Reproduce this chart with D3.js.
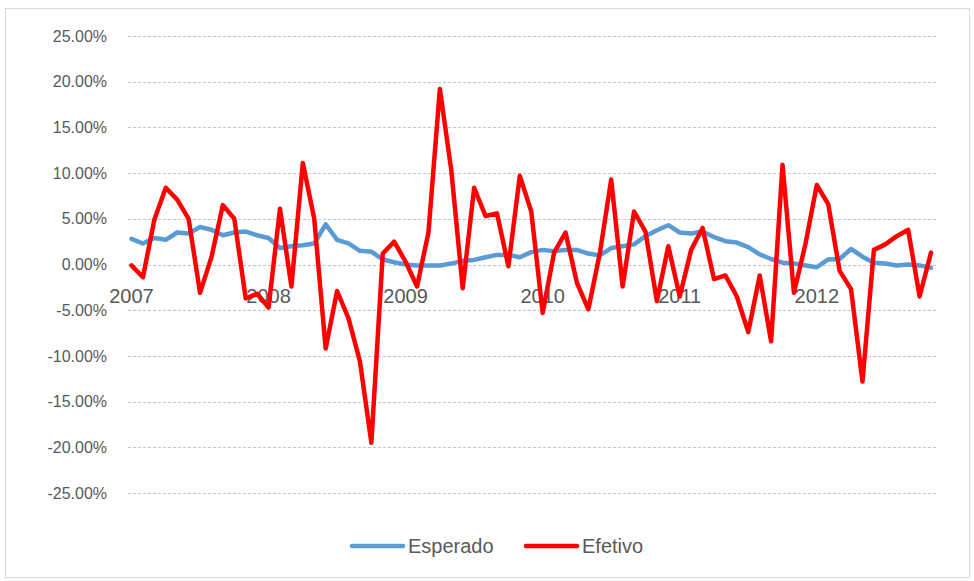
<!DOCTYPE html>
<html>
<head>
<meta charset="utf-8">
<script src="https://cdn.jsdelivr.net/npm/d3@7"></script>
<style>
  html, body { margin: 0; padding: 0; background: #fff; }
  svg { display: block; }
  text { font-family: "Liberation Sans", Arial, sans-serif; fill: #595959; }
</style>
</head>
<body>
<svg id="chart" width="974" height="581"></svg>
<script>
// Monthly observations, Jan 2007 .. Nov 2012 (values in %)
const esperado = [
  2.8, 2.3, 2.9, 2.7, 3.5, 3.4, 4.1, 3.8, 3.2, 3.5, 3.6, 3.2,
  2.9, 1.8, 2.0, 2.1, 2.3, 4.4, 2.7, 2.3, 1.5, 1.4, 0.55, 0.25,
  0.0, -0.1, -0.1, -0.1, 0.1, 0.4, 0.5, 0.8, 1.05, 1.05, 0.8, 1.35,
  1.6, 1.45, 1.6, 1.6, 1.2, 1.0, 1.8, 2.0, 2.2, 3.1, 3.75, 4.3,
  3.5, 3.4, 3.6, 3.0, 2.55, 2.4, 1.9, 1.1, 0.6, 0.2, 0.1, -0.1,
  -0.3, 0.55, 0.6, 1.7, 0.85, 0.2, 0.1, -0.1, 0.0, -0.1, -0.35
];
const efetivo = [
  -0.1, -1.4, 4.9, 8.4, 7.1, 5.0, -3.1, 0.8, 6.5, 5.0, -3.7, -3.2,
  -4.7, 6.1, -2.4, 11.1, 5.0, -9.2, -2.9, -5.9, -10.6, -19.5, 1.2, 2.5,
  0.3, -2.4, 3.5, 19.2, 10.3, -2.6, 8.4, 5.3, 5.6, -0.2, 9.7, 5.8,
  -5.3, 1.3, 3.5, -2.0, -4.9, 1.2, 9.3, -2.4, 5.8, 3.6, -4.0, 2.0,
  -3.5, 1.6, 4.0, -1.6, -1.2, -3.5, -7.4, -1.2, -8.4, 10.9, -3.1, 2.2,
  8.7, 6.6, -0.7, -2.7, -12.8, 1.6, 2.2, 3.1, 3.8, -3.5, 1.3
];
const yearLabels = ["2007", "2008", "2009", "2010", "2011", "2012"];
const yTicks = [-25, -20, -15, -10, -5, 0, 5, 10, 15, 20, 25];
const seriesNames = ["Esperado", "Efetivo"];
const seriesColors = ["#5b9bd5", "#ff0000"];

const svg = d3.select("#chart");
const n = efetivo.length;

const x = d3.scalePoint().domain(d3.range(n)).range([131.5, 931]);
const y = d3.scaleLinear().domain([-25, 25]).range([493, 36]);

const pctFmt = d3.formatLocale({decimal: ".", thousands: ",", grouping: [3], currency: ["", ""], minus: "-"}).format(".2%");

// chart frame
svg.append("rect")
  .attr("x", 5.5).attr("y", 8.5).attr("width", 964).attr("height", 569)
  .attr("fill", "none").attr("stroke", "#d9d9d9").attr("stroke-width", 1);

// gridlines
svg.append("g").selectAll("line").data(yTicks).join("line")
  .attr("x1", 128).attr("x2", 938)
  .attr("y1", d => Math.round(y(d)) + 0.5).attr("y2", d => Math.round(y(d)) + 0.5)
  .attr("stroke", "#c3c3c3").attr("stroke-width", 1)
  .attr("stroke-dasharray", "3,2");

// y axis labels
const yAxis = svg.append("g").attr("transform", "translate(128,0)")
  .call(d3.axisLeft(y).tickValues(yTicks).tickSize(0).tickPadding(21).tickFormat(d => pctFmt(d / 100)));
yAxis.select(".domain").remove();
yAxis.selectAll("text")
  .attr("font-size", 16)
  .attr("font-family", "'Liberation Sans', Arial, sans-serif")
  .attr("fill", "#595959");

// category (year) labels along the zero line
svg.append("g").selectAll("text").data(yearLabels).join("text")
  .attr("x", (d, i) => x(i * 12))
  .attr("y", y(0) + 38)
  .attr("text-anchor", "middle")
  .attr("font-size", 20)
  .text(d => d);

// lines
const line = d3.line().x((d, i) => x(i)).y(d => y(d));
[esperado, efetivo].forEach((vals, k) => {
  svg.append("path")
    .datum(vals)
    .attr("d", line)
    .attr("fill", "none")
    .attr("stroke", seriesColors[k])
    .attr("stroke-width", 4.5)
    .attr("stroke-linejoin", "round")
    .attr("stroke-linecap", "round");
});

// legend
const legendX = [352, 526];
const legend = svg.append("g");
seriesNames.forEach((name, k) => {
  legend.append("line")
    .attr("x1", legendX[k]).attr("x2", legendX[k] + 51)
    .attr("y1", 546).attr("y2", 546)
    .attr("stroke", seriesColors[k]).attr("stroke-width", 4.5)
    .attr("stroke-linecap", "round");
  legend.append("text")
    .attr("x", legendX[k] + 56).attr("y", 553)
    .attr("font-size", 20)
    .text(name);
});
</script>
</body>
</html>
